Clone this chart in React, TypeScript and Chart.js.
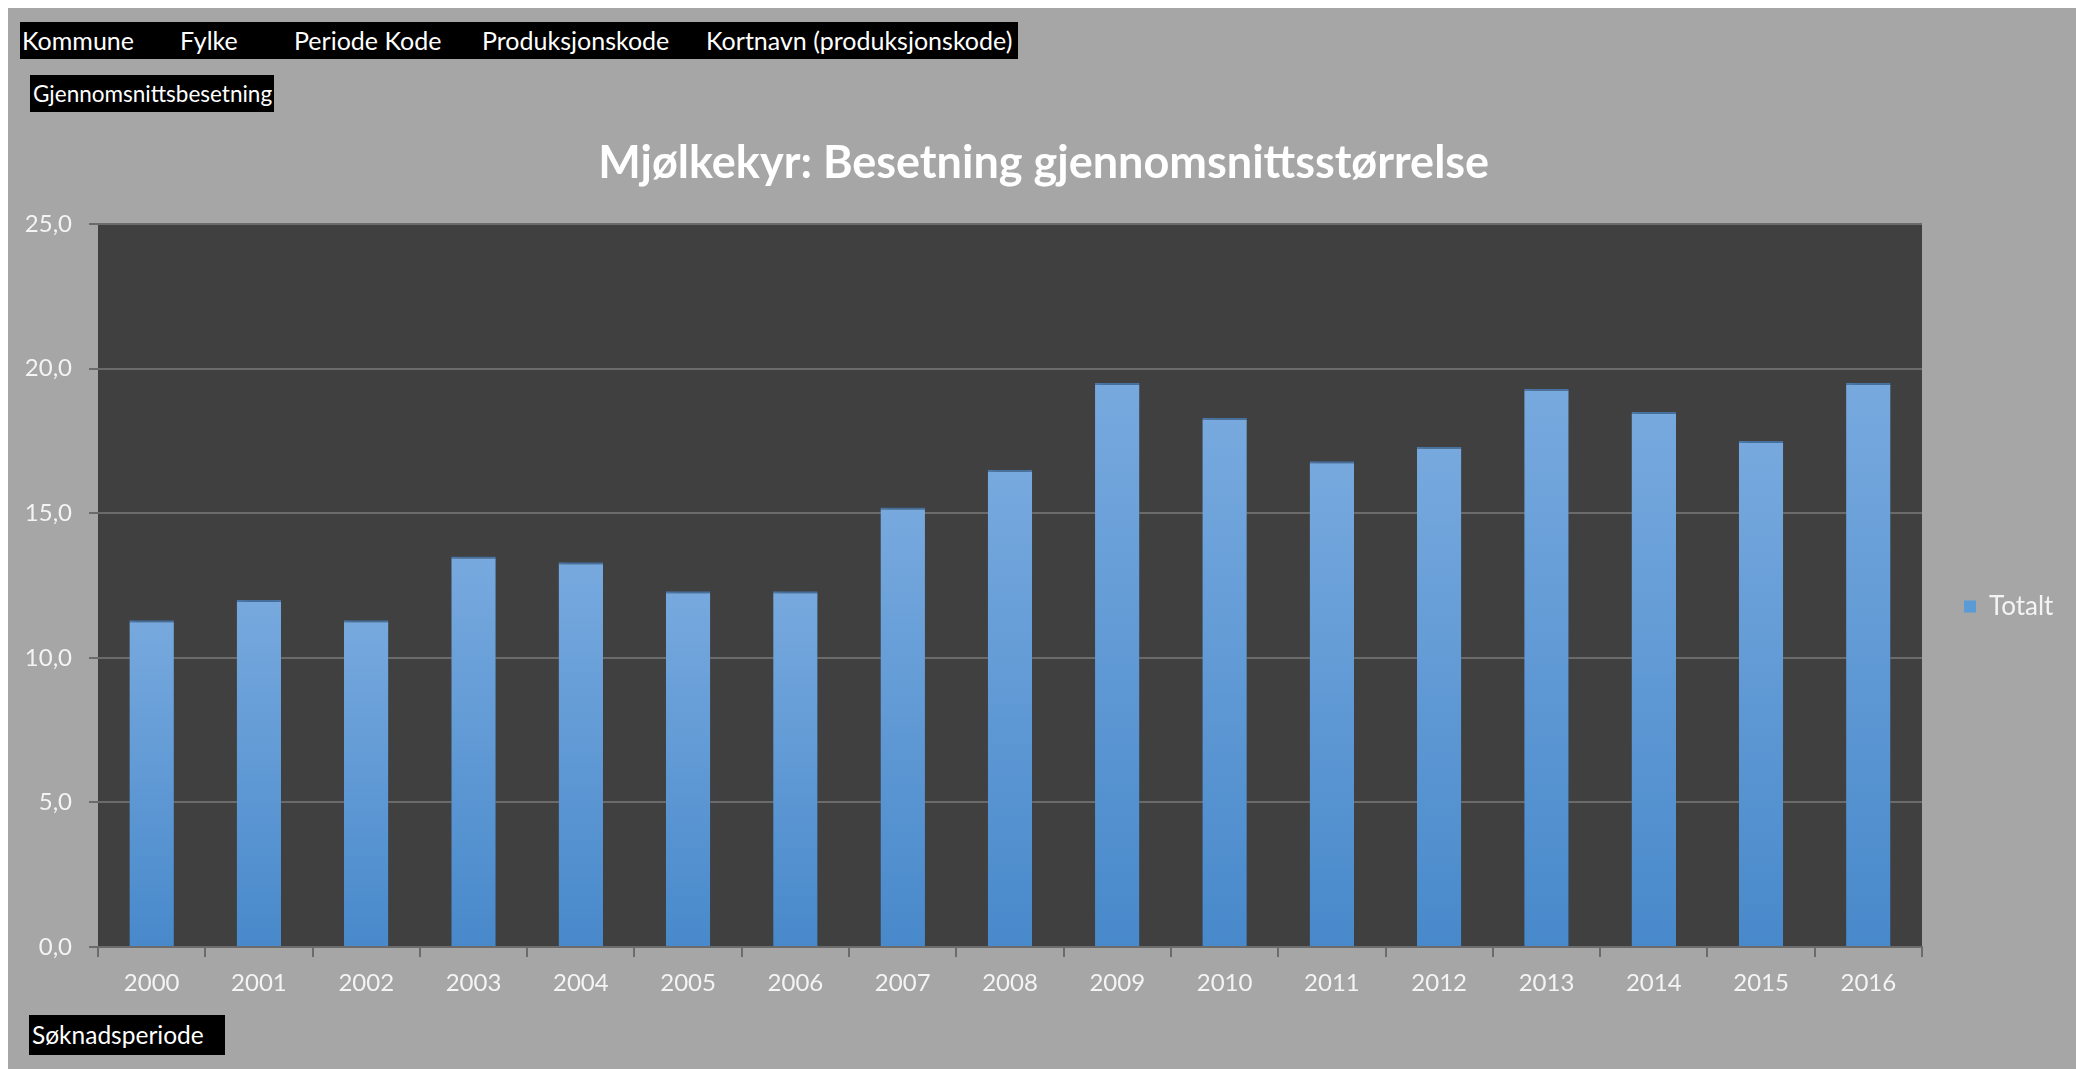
import React, { useEffect, useRef } from "react";
import { Chart, registerables } from "chart.js";

Chart.register(...registerables);

// ---- data ----
const years = ["2000", "2001", "2002", "2003", "2004", "2005", "2006", "2007", "2008", "2009", "2010", "2011", "2012", "2013", "2014", "2015", "2016"];
const totalt = [11.3, 12.0, 11.3, 13.5, 13.3, 12.3, 12.3, 15.2, 16.5, 19.5, 18.3, 16.8, 17.3, 19.3, 18.5, 17.5, 19.5];
const seriesName = "Totalt";
const chartTitle = "Mjølkekyr: Besetning gjennomsnittsstørrelse";
const filterFields = ["Kommune", "Fylke", "Periode Kode", "Produksjonskode", "Kortnavn (produksjonskode)"];
const valueField = "Gjennomsnittsbesetning";
const axisField = "Søknadsperiode";
const yMin = 0;
const yMax = 25;
const yStep = 5;

// ---- layout / style ----
const W = 2068;
const H = 1061;
const FONT = "Lato, 'Open Sans', sans-serif";
const AREA = { left: 90, top: 216, right: 1914, bottom: 939 };
const PAD_LEFT = 16;
const filterOffsets = [2, 160, 274, 462, 686];
const GRID = "#6b6b6b";
const TEXT = "#f4f4f4";
const LEGEND_FONT = 26;

const plotBg = {
  id: "plotBg",
  beforeDraw(chart: any) {
    const { ctx, chartArea: a } = chart;
    if (!a) return;
    ctx.save();
    ctx.fillStyle = "#404040";
    ctx.fillRect(a.left, a.top, a.right - a.left, a.bottom - a.top);
    ctx.restore();
  },
};

const barShadow = {
  id: "barShadow",
  beforeDatasetsDraw(chart: any) {
    const c = chart.ctx;
    c.save();
    c.shadowColor = "rgba(0,0,0,0.45)";
    c.shadowBlur = 10;
    c.shadowOffsetX = 3;
    c.shadowOffsetY = 2;
  },
  afterDatasetsDraw(chart: any) {
    chart.ctx.restore();
  },
};

function barFill(c: any) {
  const chart = c.chart;
  if (!chart.chartArea || c.type !== "data") return "#5b9bd5";
  const y = chart.scales.y;
  const top = y.getPixelForValue(c.raw);
  const bottom = y.getPixelForValue(0);
  const g = chart.ctx.createLinearGradient(0, top, 0, bottom);
  g.addColorStop(0, "#77a9de");
  g.addColorStop(1, "#4889cb");
  return g;
}

export default function App() {
  const ref = useRef<HTMLCanvasElement>(null);

  useEffect(() => {
    const canvas = ref.current;
    if (!canvas) return;
    const m = document.createElement("canvas").getContext("2d")!;
    m.font = `${LEGEND_FONT}px ${FONT}`;
    const tw = m.measureText(seriesName).width;
    const legendPad = 42;
    const legendWidth = legendPad + 12 + LEGEND_FONT / 2 + tw + 10;
    const padRight = Math.max(0, W - AREA.right - legendWidth);

    const chart = new Chart(canvas, {
      type: "bar",
      data: {
        labels: years,
        datasets: [
          {
            label: seriesName,
            data: totalt,
            backgroundColor: barFill,
            borderColor: "#4f7fb3",
            borderWidth: { top: 2, left: 0, right: 0, bottom: 0 },
            borderSkipped: "start",
            categoryPercentage: 1,
            barPercentage: 0.415,
          },
        ],
      },
      options: {
        animation: false,
        responsive: false,
        devicePixelRatio: 1,
        layout: { padding: { left: PAD_LEFT, top: 0, bottom: 0, right: padRight } },
        plugins: {
          tooltip: { enabled: false },
          title: {
            display: true,
            text: chartTitle,
            color: "#ffffff",
            font: { family: FONT, size: 45, weight: "bold" },
            padding: { top: 128, bottom: 34 },
          },
          legend: {
            display: true,
            position: "right",
            fullSize: false,
            title: { display: true, text: " ", font: { size: 10 }, padding: { top: 15, bottom: 15 } },
            labels: {
              boxWidth: 12,
              boxHeight: 12,
              padding: legendPad,
              color: TEXT,
              font: { family: FONT, size: LEGEND_FONT },
              generateLabels: (ch: any) =>
                (Chart.defaults.plugins.legend.labels.generateLabels as any)(ch).map((l: any) => ({
                  ...l,
                  fillStyle: "#5b9bd5",
                  lineWidth: 0,
                  strokeStyle: "#5b9bd5",
                })),
            },
          },
        },
        scales: {
          x: {
            grid: {
              display: true,
              drawOnChartArea: false,
              drawTicks: true,
              tickLength: 10,
              color: GRID,
              lineWidth: 2,
            },
            border: { display: true, color: GRID, width: 2 },
            ticks: { color: TEXT, font: { family: FONT, size: 24 }, padding: 12, maxRotation: 0 },
            afterFit: (s: any) => {
              s.height = H - AREA.bottom;
            },
          },
          y: {
            min: yMin,
            max: yMax,
            grid: { color: GRID, lineWidth: 2, tickLength: 9, drawTicks: true },
            border: { display: false },
            ticks: {
              stepSize: yStep,
              color: TEXT,
              padding: 17,
              font: { family: FONT, size: 24 },
              callback: (v: any) => Number(v).toFixed(1).replace(".", ","),
            },
            afterFit: (s: any) => {
              s.width = AREA.left - PAD_LEFT;
            },
          },
        },
      },
      plugins: [plotBg, barShadow],
    } as any);
    return () => chart.destroy();
  }, []);

  const box: React.CSSProperties = {
    position: "absolute",
    background: "#000",
    color: "#fff",
    fontFamily: FONT,
    whiteSpace: "nowrap",
    boxSizing: "border-box",
    zIndex: 2,
  };

  return (
    <div
      style={{
        position: "fixed",
        left: 8,
        top: 8,
        width: W,
        height: H,
        background: "#a6a6a6",
        overflow: "hidden",
      }}
    >
      <canvas ref={ref} width={W} height={H} style={{ position: "absolute", left: 0, top: 0, width: W, height: H, display: "block" }} />
      <div style={{ ...box, left: 12, top: 14, width: 998, height: 37, fontSize: 25 }}>
        {filterFields.map((f, i) => (
          <span key={f} style={{ position: "absolute", left: filterOffsets[i], top: 0, lineHeight: "37px" }}>
            {f}
          </span>
        ))}
      </div>
      <div style={{ ...box, left: 22, top: 67, width: 244, height: 37, lineHeight: "37px", paddingLeft: 3, fontSize: 22.5 }}>{valueField}</div>
      <div style={{ ...box, left: 21, top: 1007, width: 196, height: 40, lineHeight: "40px", paddingLeft: 3, fontSize: 24.5 }}>{axisField}</div>
    </div>
  );
}
